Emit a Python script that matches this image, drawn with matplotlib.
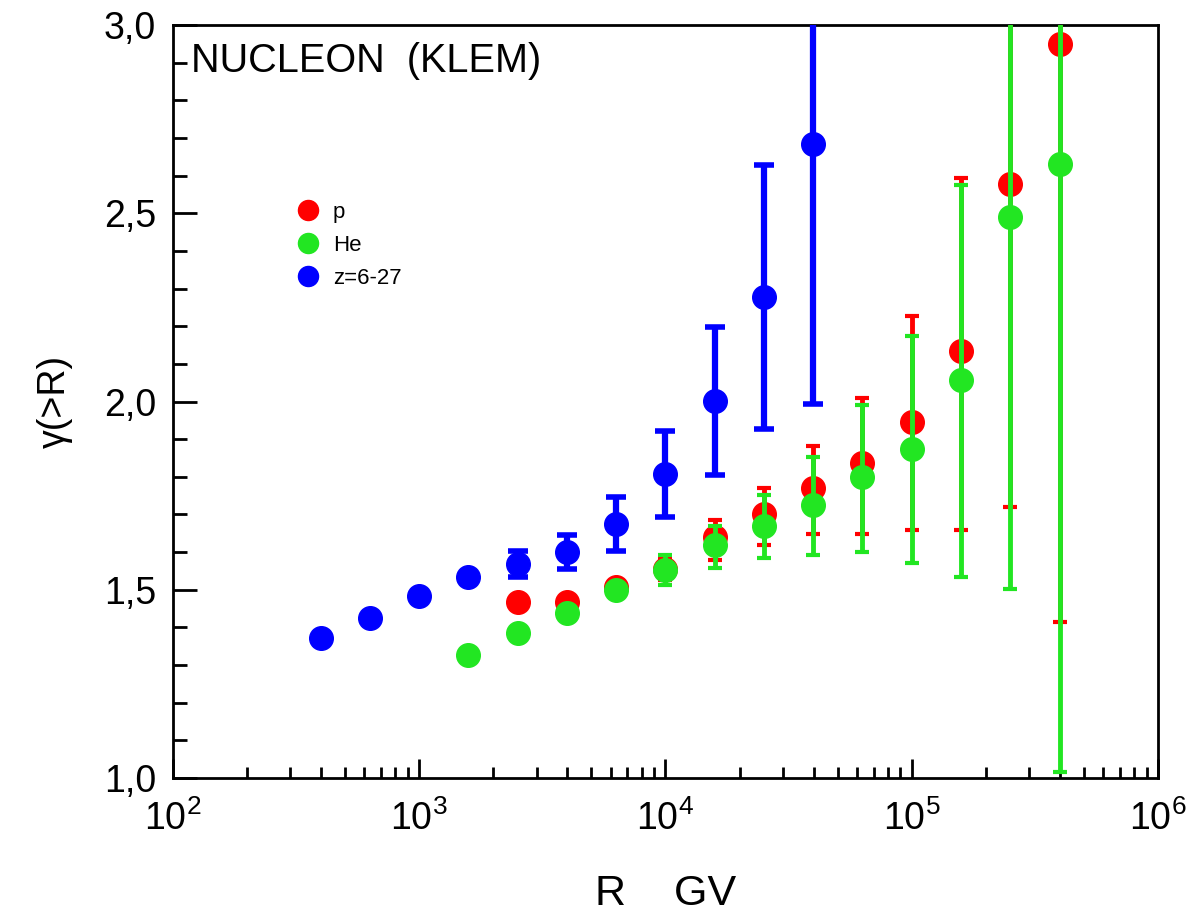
import numpy as np
import matplotlib
matplotlib.use('Agg')
import matplotlib.pyplot as plt

plt.rcParams['font.family'] = ['Liberation Sans', 'DejaVu Sans']
plt.rcParams['mathtext.fontset'] = 'custom'
plt.rcParams['mathtext.rm'] = 'Liberation Sans'
plt.rcParams['mathtext.it'] = 'Liberation Sans:italic'

# rigidity bins (GV)
R_z = [398, 631, 1000, 1585, 2512, 3981, 6310, 10000, 15850, 25120, 39810]
g_z = [1.372, 1.426, 1.483, 1.534, 1.569, 1.600, 1.674, 1.808, 2.001, 2.277, 2.683]
e_z = [0, 0, 0, 0, 0.035, 0.046, 0.072, 0.115, 0.196, 0.351, 0.69]

R_p = [2512, 3981, 6310, 10000, 15850, 25120, 39810, 63100, 100000, 158500, 251200, 398100]
g_p = [1.468, 1.468, 1.507, 1.555, 1.640, 1.702, 1.771, 1.836, 1.945, 2.133, 2.577, 2.949]
elo_p = [0, 0, 0, 0.03, 0.060, 0.083, 0.124, 0.189, 0.285, 0.473, 0.857, 1.534]
ehi_p = [0, 0, 0, 0.03, 0.046, 0.069, 0.110, 0.174, 0.281, 0.462, 0.85, 1.5]

R_he = [1585, 2512, 3981, 6310, 10000, 15850, 25120, 39810, 63100, 100000, 158500, 251200, 398100]
g_he = [1.326, 1.384, 1.437, 1.499, 1.553, 1.618, 1.669, 1.726, 1.799, 1.873, 2.058, 2.489, 2.632]
elo_he = [0, 0, 0, 0, 0.04, 0.060, 0.085, 0.133, 0.198, 0.302, 0.525, 0.986, 1.615]
ehi_he = [0, 0, 0, 0, 0.04, 0.051, 0.082, 0.126, 0.193, 0.302, 0.517, 0.99, 1.6]

c_p = '#ff0000'
c_he = '#22e622'
c_z = '#0000ff'

fig = plt.figure(figsize=(11.89, 9.14), dpi=100)
ax = fig.add_axes([0.1453, 0.1488, 0.8287, 0.8238])

ax.errorbar(R_z, g_z, yerr=e_z, fmt='o', color=c_z, ms=17, elinewidth=4.5,
            capsize=7, capthick=4, label='z=6-27', zorder=3)
ax.errorbar(R_p, g_p, yerr=[elo_p, ehi_p], fmt='o', color=c_p, ms=17, elinewidth=3.5,
            capsize=5, capthick=3, label='p', zorder=4)
ax.errorbar(R_he, g_he, yerr=[elo_he, ehi_he], fmt='o', color=c_he, ms=17, elinewidth=3.5,
            capsize=5, capthick=3, label='He', zorder=5)

ax.set_xscale('log')
ax.set_xlim(1e2, 1e6)
ax.set_ylim(1.0, 3.0)

ax.set_xticks([1e2, 1e3, 1e4, 1e5, 1e6])
ax.set_xticklabels([r'$\mathregular{10^{%d}}$' % k for k in range(2, 7)])
ax.set_yticks([1.0, 1.5, 2.0, 2.5, 3.0])
ax.set_yticklabels(['1,0', '1,5', '2,0', '2,5', '3,0'])
ax.set_yticks(np.arange(1.0, 3.0, 0.1), minor=True)

ax.tick_params(which='major', direction='in', length=14, width=2, labelsize=27,
               top=False, right=False)
ax.tick_params(which='minor', direction='in', length=8, width=2, top=False, right=False)
ax.tick_params(axis='y', which='major', length=17, pad=12)
ax.tick_params(axis='y', which='minor', length=10)
ax.tick_params(axis='x', which='major', pad=16)
for s in ax.spines.values():
    s.set_linewidth(2)

ax.set_xlabel('R    GV', fontsize=31, labelpad=26)
ax.set_ylabel('γ(>R)', fontsize=27, labelpad=22)

ax.text(0.019, 0.9376, 'NUCLEON  (KLEM)', transform=ax.transAxes, fontsize=28.5,
        va='baseline', ha='left')

h, l = ax.get_legend_handles_labels()
order = [1, 2, 0]
leg = ax.legend([h[i][0] for i in order], [l[i] for i in order],
                loc='upper left', bbox_to_anchor=(0.106, 0.792), frameon=False,
                fontsize=16, markerscale=0.85, handlelength=1.0,
                labelspacing=0.55, handletextpad=0.6)

plt.savefig('out.png', dpi=100)
